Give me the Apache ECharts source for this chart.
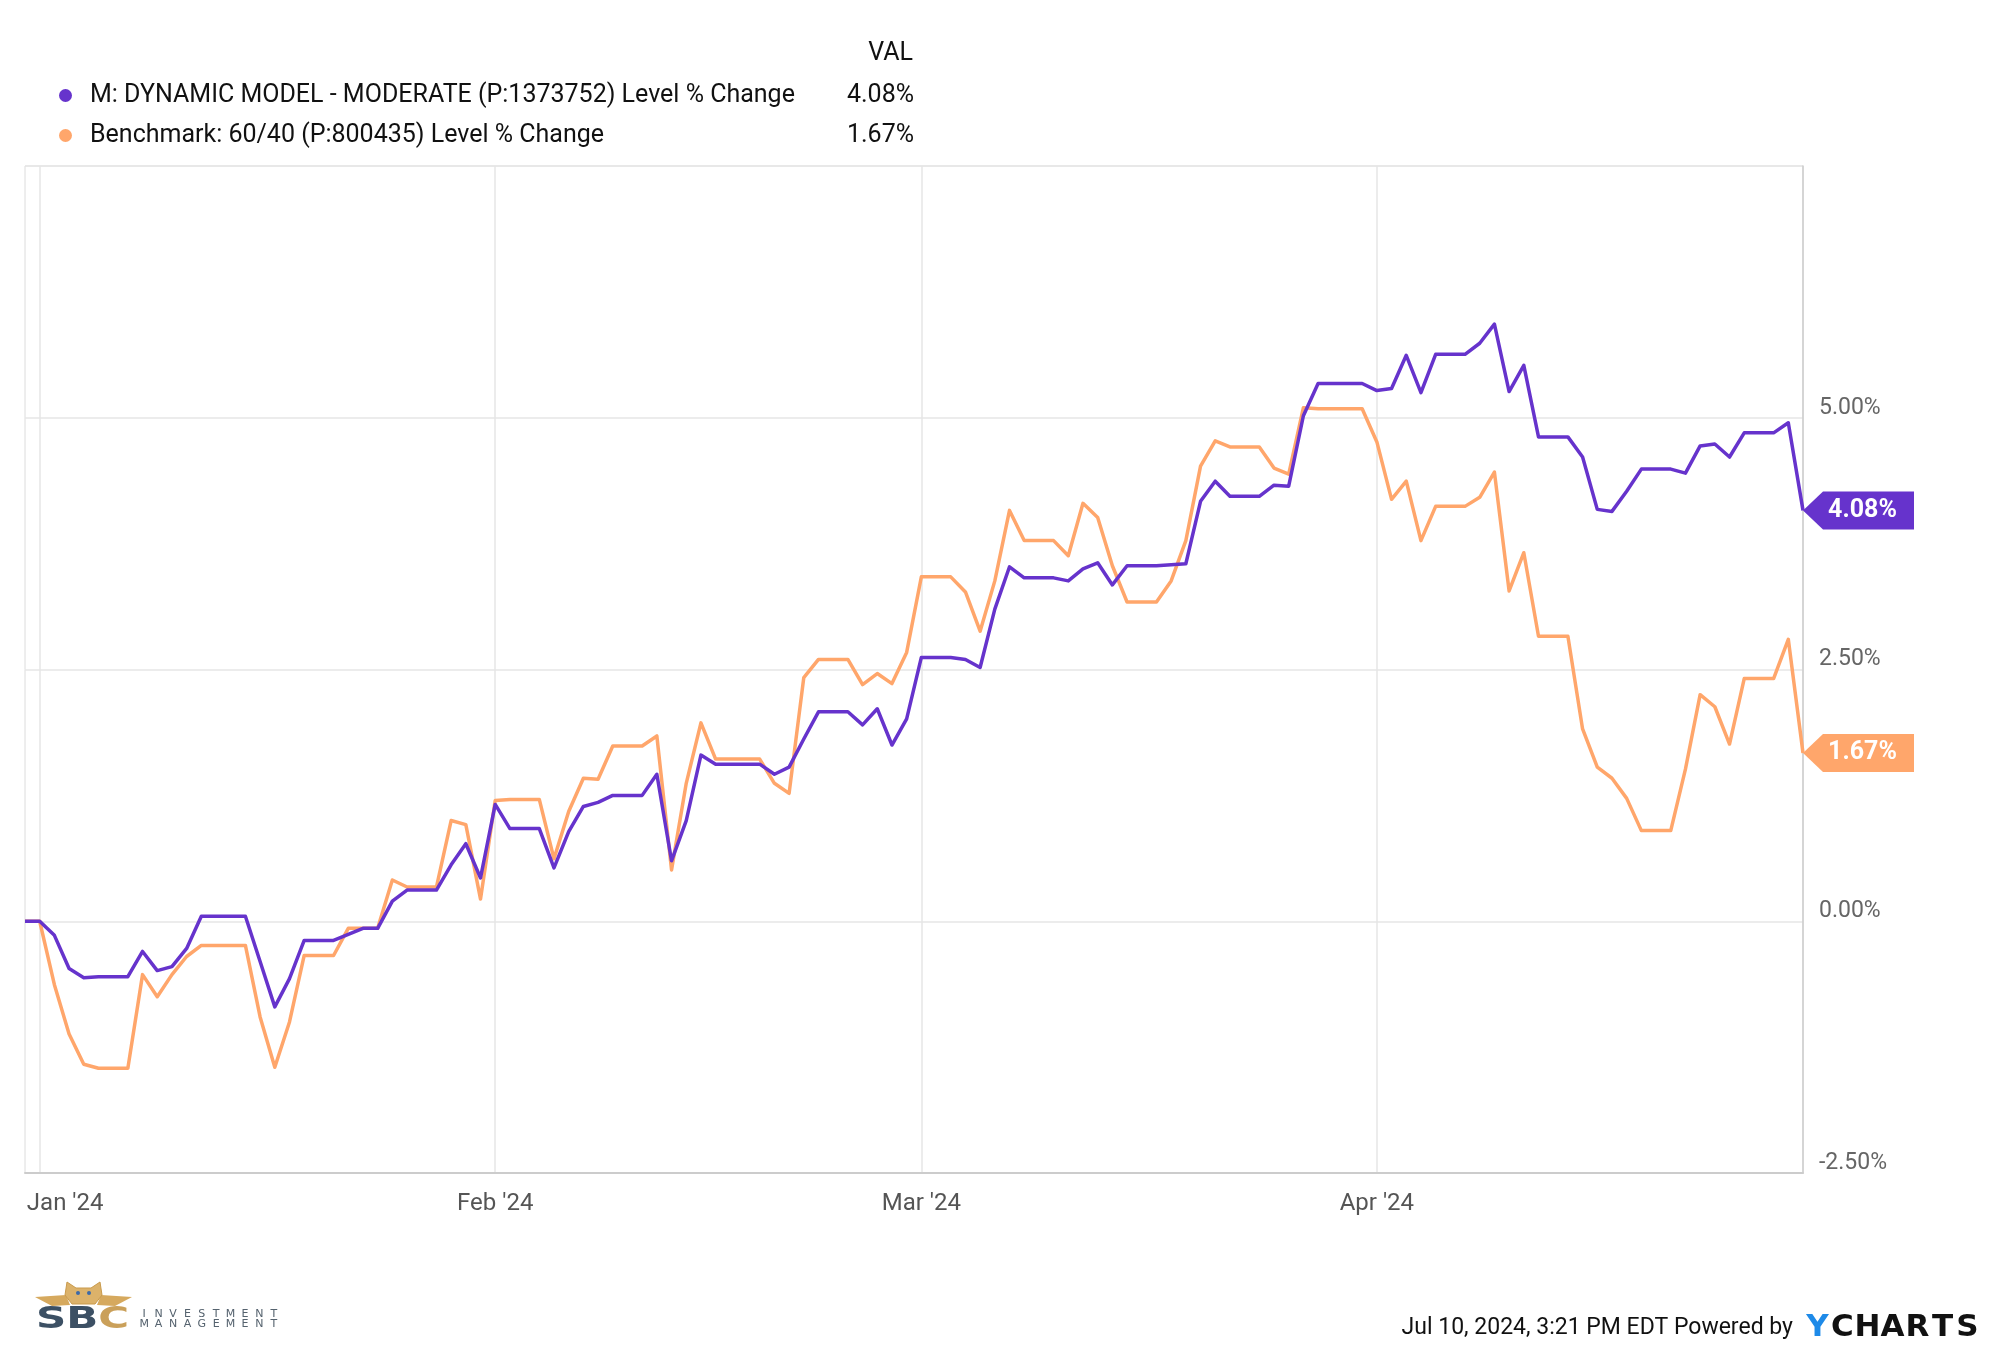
<!DOCTYPE html>
<html>
<head>
<meta charset="utf-8">
<script src="https://cdn.jsdelivr.net/npm/echarts/dist/echarts.min.js"></script>
<style>
html,body{margin:0;padding:0;background:#fff;}
#chart{width:2000px;height:1359px;}
</style>
</head>
<body>
<div id="chart"></div>
<script>
// ---------- data ----------
const FIRST_DAY = '2023-12-31';   // first calendar day shown (daily points, weekends carried flat)
const DAY_COUNT = 122;            // through 2024-04-30
const MONTH_NAMES = ['Jan','Feb','Mar','Apr','May','Jun','Jul','Aug','Sep','Oct','Nov','Dec'];

const SERIES_NAMES = [
  'M: DYNAMIC MODEL - MODERATE (P:1373752) Level % Change',
  'Benchmark: 60/40 (P:800435) Level % Change'
];
const SERIES_COLORS = ['#6633cc', '#ffa66b'];

// Level % change, one value per calendar day
const modelValues = [
  0, 0, -0.14, -0.47, -0.56, -0.55, -0.55, -0.55, -0.30, -0.49,
  -0.45, -0.27, 0.05, 0.05, 0.05, 0.05, -0.40, -0.85, -0.57, -0.19,
  -0.19, -0.19, -0.13, -0.07, -0.07, 0.20, 0.31, 0.31, 0.31, 0.56,
  0.77, 0.43, 1.16, 0.92, 0.92, 0.92, 0.53, 0.89, 1.14, 1.18,
  1.25, 1.25, 1.25, 1.46, 0.60, 1.00, 1.65, 1.56, 1.56, 1.56,
  1.56, 1.46, 1.53, 1.81, 2.08, 2.08, 2.08, 1.95, 2.11, 1.75,
  2.01, 2.62, 2.62, 2.62, 2.60, 2.52, 3.10, 3.52, 3.41, 3.41,
  3.41, 3.38, 3.50, 3.56, 3.34, 3.53, 3.53, 3.53, 3.54, 3.55,
  4.17, 4.37, 4.22, 4.22, 4.22, 4.33, 4.32, 5.02, 5.34, 5.34,
  5.34, 5.34, 5.27, 5.29, 5.62, 5.25, 5.63, 5.63, 5.63, 5.74,
  5.93, 5.26, 5.52, 4.81, 4.81, 4.81, 4.61, 4.09, 4.07, 4.27,
  4.49, 4.49, 4.49, 4.45, 4.72, 4.74, 4.61, 4.85, 4.85, 4.85,
  4.95, 4.08
];
const benchmarkValues = [
  0, 0, -0.63, -1.12, -1.42, -1.46, -1.46, -1.46, -0.53, -0.75,
  -0.53, -0.35, -0.24, -0.24, -0.24, -0.24, -0.95, -1.45, -1.00, -0.34,
  -0.34, -0.34, -0.07, -0.07, -0.07, 0.41, 0.34, 0.34, 0.34, 1.00,
  0.96, 0.22, 1.20, 1.21, 1.21, 1.21, 0.62, 1.09, 1.42, 1.41,
  1.74, 1.74, 1.74, 1.84, 0.51, 1.37, 1.97, 1.61, 1.61, 1.61,
  1.61, 1.37, 1.27, 2.42, 2.60, 2.60, 2.60, 2.35, 2.46, 2.36,
  2.67, 3.42, 3.42, 3.42, 3.27, 2.88, 3.38, 4.08, 3.78, 3.78,
  3.78, 3.63, 4.15, 4.01, 3.53, 3.17, 3.17, 3.17, 3.38, 3.78,
  4.52, 4.77, 4.71, 4.71, 4.71, 4.50, 4.44, 5.10, 5.09, 5.09,
  5.09, 5.09, 4.76, 4.19, 4.37, 3.78, 4.12, 4.12, 4.12, 4.21,
  4.46, 3.28, 3.66, 2.83, 2.83, 2.83, 1.91, 1.53, 1.42, 1.22,
  0.90, 0.90, 0.90, 1.51, 2.25, 2.13, 1.76, 2.41, 2.41, 2.41,
  2.80, 1.67
];

const Y_MIN = -2.5, Y_MAX = 7.5, Y_STEP = 2.5;

// ---------- build calendar categories ----------
const dates = [];
{
  const p = FIRST_DAY.split('-').map(Number);
  const t0 = Date.UTC(p[0], p[1] - 1, p[2]);
  for (let i = 0; i < DAY_COUNT; i++) {
    const d = new Date(t0 + i * 86400000);
    const mm = String(d.getUTCMonth() + 1).padStart(2, '0');
    const dd = String(d.getUTCDate()).padStart(2, '0');
    dates.push(d.getUTCFullYear() + '-' + mm + '-' + dd);
  }
}
const isMonthStart = (i, v) => typeof v === 'string' ? v.endsWith('-01') : dates[i].endsWith('-01');
const fmtPct = v => v.toFixed(2) + '%';
const allValues = [modelValues, benchmarkValues];

const FONT = 'Roboto, "Noto Sans", sans-serif';

function spaced(text, key) {
  return text.split('').map(ch => '{' + key + '|' + ch + '}').join('');
}

const arrowPath = 'path://M0,19 L20,0 L111,0 L111,38 L20,38 Z';

const chart = echarts.init(document.getElementById('chart'), null, {renderer: 'canvas'});

const series = allValues.map((vals, k) => ({
  name: SERIES_NAMES[k],
  type: 'line',
  data: vals,
  symbol: 'none',
  smooth: false,
  color: SERIES_COLORS[k],
  lineStyle: {width: 3.5, color: SERIES_COLORS[k], join: 'round'},
  z: k === 0 ? 4 : 3,
  markPoint: {
    silent: true,
    symbol: arrowPath,
    symbolSize: [111, 38],
    symbolOffset: [55.5, 0],
    itemStyle: {color: SERIES_COLORS[k]},
    label: {
      show: true,
      position: 'inside',
      offset: [4, 0],
      color: '#fff',
      fontWeight: 'bold',
      fontSize: 25,
      fontFamily: FONT,
      formatter: p => fmtPct(p.value)
    },
    data: [{coord: [dates[vals.length - 1], vals[vals.length - 1]], value: vals[vals.length - 1]}]
  }
}));

const legendValues = {};
SERIES_NAMES.forEach((n, k) => { legendValues[n] = fmtPct(allValues[k][allValues[k].length - 1]); });

const GOLD = '#d6a95e';

chart.setOption({
  animation: false,
  backgroundColor: '#ffffff',
  textStyle: {fontFamily: FONT},
  grid: {left: 25, right: 197, top: 166, bottom: 186, show: true, borderColor: '#dcdcdc', borderWidth: 1},
  legend: {
    orient: 'vertical',
    left: 54,
    top: 78,
    icon: 'circle',
    itemWidth: 13,
    itemHeight: 13,
    itemGap: 15,
    selectedMode: false,
    data: SERIES_NAMES,
    formatter: name => '{n|' + name + '}{v|' + legendValues[name] + '}',
    textStyle: {
      rich: {
        n: {fontSize: 25, fontFamily: FONT, color: '#111', padding: [0, 0, 0, 13], width: 724, lineHeight: 30},
        v: {fontSize: 25, fontFamily: FONT, color: '#111', width: 100, align: 'right', lineHeight: 30}
      }
    }
  },
  xAxis: {
    type: 'category',
    data: dates,
    boundaryGap: false,
    axisLine: {show: true, onZero: false, lineStyle: {color: '#cccccc', width: 2}},
    axisTick: {show: false, interval: isMonthStart},
    splitLine: {show: true, interval: isMonthStart, lineStyle: {color: '#e6e6e6', width: 1.5}},
    axisLabel: {
      interval: isMonthStart,
      margin: 19,
      fontSize: 24,
      color: '#555',
      fontFamily: FONT,
      verticalAlign: 'top',
      formatter: v => {
        const p = v.split('-');
        const s = MONTH_NAMES[+p[1] - 1] + " '" + p[0].slice(2);
        return +p[1] === 1 ? '{first|' + s + '}' : s;
      },
      rich: {
        first: {fontSize: 24, color: '#555', fontFamily: FONT, padding: [0, 0, 0, 51]}
      }
    }
  },
  yAxis: {
    type: 'value',
    position: 'right',
    min: Y_MIN,
    max: Y_MAX,
    interval: Y_STEP,
    axisLine: {show: true, lineStyle: {color: '#cccccc', width: 1.5}},
    axisTick: {show: false},
    splitLine: {show: true, lineStyle: {color: '#e6e6e6', width: 1.5}},
    axisLabel: {
      showMaxLabel: false,
      margin: 16,
      fontSize: 23,
      color: '#666',
      fontFamily: FONT,
      verticalAlign: 'bottom',
      lineHeight: 20,
      formatter: v => fmtPct(v)
    }
  },
  series: series,
  graphic: [
    {
      type: 'text', x: 913, y: 54,
      style: {text: 'VAL', fontSize: 25, fontFamily: FONT, fill: '#111', textAlign: 'right', textVerticalAlign: 'middle'}
    },
    {
      type: 'text', x: 1793, y: 1328,
      style: {text: 'Jul 10, 2024, 3:21 PM EDT Powered by', fontSize: 23, fontFamily: FONT, fill: '#111', textAlign: 'right', textVerticalAlign: 'middle'}
    },
    {
      type: 'text', x: 1805, y: 1328,
      style: {
        text: '{y|Y}' + spaced('CHARTS', 'c'),
        textVerticalAlign: 'middle',
        rich: {
          y: {fontSize: 31, fontWeight: 900, fontFamily: '"DejaVu Sans", sans-serif', fill: '#1e8ae8', width: 25, align: 'center'},
          c: {fontSize: 31, fontWeight: 900, fontFamily: '"DejaVu Sans", sans-serif', fill: '#111', width: 25, align: 'center'}
        }
      }
    },
    // SBC Investment Management logo
    {
      type: 'polygon',
      shape: {points: [[35,1297],[66,1295],[70,1305],[52,1306]]},
      style: {fill: GOLD}
    },
    {
      type: 'polygon',
      shape: {points: [[101,1295],[132,1297],[115,1306],[97,1305]]},
      style: {fill: GOLD}
    },
    {
      type: 'polygon',
      shape: {points: [[67,1282],[76,1288],[91,1288],[100,1282],[102,1295],[95,1304],[72,1304],[65,1295]]},
      style: {fill: '#dcb26a', stroke: '#c99a4c', lineWidth: 1}
    },
    {type: 'circle', shape: {cx: 78, cy: 1293, r: 2}, style: {fill: '#3d6aa8'}},
    {type: 'circle', shape: {cx: 89, cy: 1293, r: 2}, style: {fill: '#3d6aa8'}},
    {
      type: 'text', x: 36, y: 1320, scaleX: 1.4,
      style: {
        text: '{s|SB}{c|C}',
        textVerticalAlign: 'middle',
        rich: {
          s: {fontSize: 30, fontWeight: 'bold', fontFamily: '"DejaVu Sans", sans-serif', fill: '#3c5064'},
          c: {fontSize: 30, fontWeight: 'bold', fontFamily: '"DejaVu Sans", sans-serif', fill: '#caa05a'}
        }
      }
    },
    {
      type: 'text', x: 137, y: 1314,
      style: {text: spaced('INVESTMENT', 'l'), textVerticalAlign: 'middle',
        rich: {l: {fontSize: 11, fontFamily: '"DejaVu Sans", sans-serif', fill: '#55626e', width: 14.4, align: 'center'}}}
    },
    {
      type: 'text', x: 137, y: 1324,
      style: {text: spaced('MANAGEMENT', 'l'), textVerticalAlign: 'middle',
        rich: {l: {fontSize: 11, fontFamily: '"DejaVu Sans", sans-serif', fill: '#55626e', width: 14.4, align: 'center'}}}
    }
  ]
});
</script>
</body>
</html>
